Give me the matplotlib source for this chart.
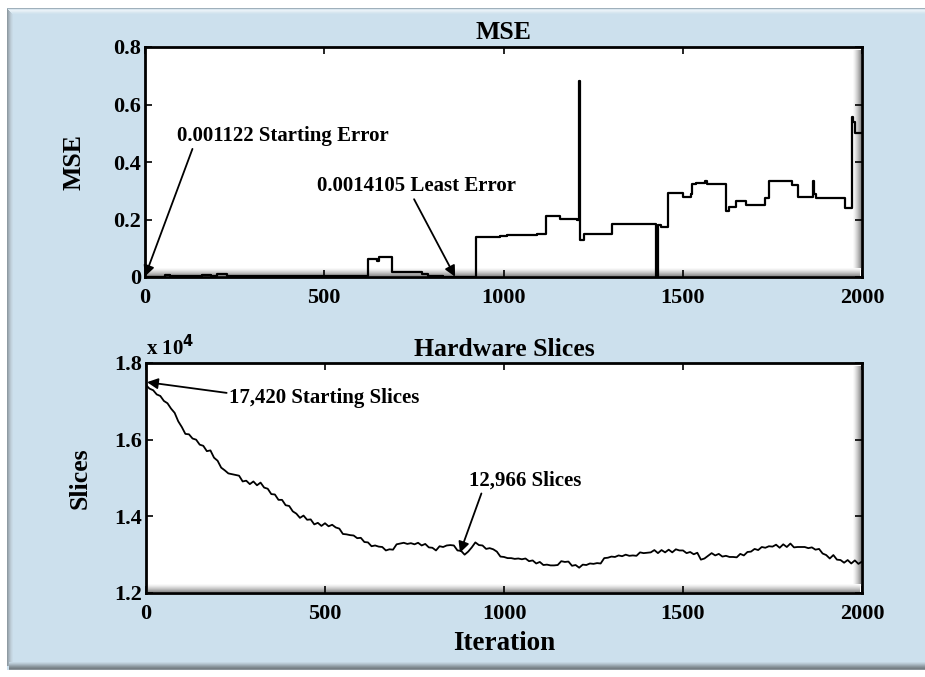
import numpy as np
import matplotlib
matplotlib.use("Agg")
import matplotlib.pyplot as plt
from matplotlib.patches import Rectangle

# ---------------- data ----------------
mse_iter = [0, 55, 70, 160, 185, 200, 230, 430, 520, 623, 646, 652, 688, 772, 790,
            830, 923, 990, 1010, 1094, 1118, 1157, 1205, 1210, 1214, 1225, 1304,
            1425, 1432, 1440, 1459, 1501, 1522, 1527, 1538, 1563, 1568, 1622,
            1630, 1648, 1676, 1729, 1741, 1804, 1822, 1862, 1865, 1872, 1953,
            1971, 1976, 1981, 2000]
mse_val = [0.001, 0.008, 0.003, 0.007, 0.005, 0.009, 0.004, 0.005, 0.002, 0.062,
           0.056, 0.068, 0.018, 0.010, 0.003, 0.0014, 0.138, 0.142, 0.147, 0.150,
           0.212, 0.203, 0.200, 0.683, 0.130, 0.150, 0.184, 0.0, 0.180, 0.175,
           0.291, 0.280, 0.290, 0.323, 0.328, 0.333, 0.323, 0.231, 0.243, 0.263,
           0.251, 0.274, 0.335, 0.320, 0.279, 0.335, 0.290, 0.274, 0.240, 0.558,
           0.540, 0.500, 0.500]

slice_iter = list(range(0, 2001, 10))
slice_val = [
    1.742, 1.733, 1.729, 1.718, 1.714, 1.701, 1.695, 1.681, 1.670, 1.648,
    1.633, 1.615, 1.614, 1.603, 1.600, 1.587, 1.584, 1.570, 1.572, 1.553,
    1.545, 1.527, 1.520, 1.512, 1.510, 1.508, 1.506, 1.491, 1.493, 1.484,
    1.491, 1.481, 1.488, 1.475, 1.472, 1.458, 1.457, 1.443, 1.443, 1.429,
    1.427, 1.413, 1.407, 1.396, 1.402, 1.391, 1.392, 1.379, 1.383, 1.375,
    1.382, 1.374, 1.378, 1.371, 1.368, 1.354, 1.353, 1.351, 1.350, 1.343,
    1.344, 1.333, 1.332, 1.322, 1.324, 1.321, 1.320, 1.311, 1.314, 1.313,
    1.327, 1.329, 1.331, 1.328, 1.330, 1.327, 1.331, 1.324, 1.328, 1.319,
    1.318, 1.311, 1.322, 1.320, 1.324, 1.325, 1.324, 1.311, 1.310, 1.300,
    1.308, 1.319, 1.332, 1.325, 1.324, 1.315, 1.317, 1.314, 1.308, 1.295,
    1.294, 1.291, 1.291, 1.289, 1.290, 1.288, 1.290, 1.283, 1.285, 1.277,
    1.281, 1.273, 1.274, 1.272, 1.272, 1.273, 1.283, 1.281, 1.282, 1.271,
    1.273, 1.266, 1.274, 1.273, 1.277, 1.276, 1.278, 1.277, 1.291, 1.292,
    1.295, 1.294, 1.298, 1.296, 1.300, 1.297, 1.298, 1.297, 1.306, 1.304,
    1.305, 1.306, 1.312, 1.304, 1.312, 1.306, 1.313, 1.306, 1.314, 1.311,
    1.311, 1.304, 1.307, 1.301, 1.305, 1.287, 1.290, 1.297, 1.304, 1.298,
    1.302, 1.295, 1.297, 1.294, 1.294, 1.293, 1.302, 1.298, 1.307, 1.308,
    1.315, 1.312, 1.320, 1.318, 1.322, 1.321, 1.326, 1.318, 1.327, 1.320,
    1.329, 1.319, 1.320, 1.320, 1.320, 1.317, 1.319, 1.313, 1.315, 1.303,
    1.299, 1.290, 1.299, 1.287, 1.286, 1.279, 1.286, 1.277, 1.285, 1.276,
    1.282]

x_ticks = [0, 500, 1000, 1500, 2000]
mse_ticks = [0, 0.2, 0.4, 0.6, 0.8]
mse_ticklabels = ["0", "0.2", "0.4", "0.6", "0.8"]
slice_ticks = [1.2, 1.4, 1.6, 1.8]
slice_ticklabels = ["1.2", "1.4", "1.6", "1.8"]

# ---------------- style ----------------
plt.rcParams['font.family'] = ['Liberation Serif', 'DejaVu Serif']
plt.rcParams['font.weight'] = 'bold'
TICK_FS = 16
LBL_FS = 18.5
ANN_FS = 15
PANEL = '#cce0ed'

fig = plt.figure(figsize=(9.25, 6.77), dpi=100)
fig.patch.set_facecolor('white')

W, H = 925.0, 677.0
def fx(px): return px / W
def fy(py): return 1 - py / H

def fig_rect(x, y, w, h, color, z, alpha=1.0):
    fig.patches.append(Rectangle((x, y), w, h, transform=fig.transFigure,
                                 facecolor=color, edgecolor='none', zorder=z, alpha=alpha))

# panel with bevel
px0, py0, px1, py1 = 7, 8, 925, 670
fig_rect(fx(px0), fy(py1), fx(px1 - px0), (py1 - py0) / H, PANEL, -10)
left_cols = ['#8f9ba3', '#9eabb4', '#adbac4', '#b9c8d2', '#c2d3de', '#c8dae6']
for i, c in enumerate(left_cols):
    fig_rect(fx(px0 + i), fy(py1 - 4), fx(1), (py1 - py0 - 4) / H, c, -9)
top_cols = ['#9fb0bb', '#d9e6ef', '#e8f1f7', '#e2edf4', '#d8e7f0', '#d1e3ee']
for i, c in enumerate(top_cols):
    fig_rect(fx(px0 + i), fy(py0 + i + 1), fx(px1 - px0 - i), 1 / H, c, -8)
bot_cols = ['#c4d6e2', '#b8c9d4', '#aab9c3', '#9aa8b1', '#8c989f', '#7f8a90', '#767f85', '#8a9399']
for i, c in enumerate(bot_cols):
    fig_rect(fx(px0 + 2), fy(py1 - 8 + i + 1), fx(px1 - px0 - 2), 1 / H, c, -8)

def style_axes(ax):
    ax.set_zorder(1)
    ax.set_facecolor('white')
    for s in ax.spines.values():
        s.set_linewidth(2.0)
        s.set_color('black')
        s.set_zorder(6)
    ax.tick_params(direction='in', length=5, width=1.2, top=True, right=True,
                   labelsize=TICK_FS, pad=3)
    ax.tick_params(axis='x', pad=8)
    for lab in ax.get_xticklabels() + ax.get_yticklabels():
        lab.set_fontweight('bold')

def add_shadow(ax):
    bb = ax.get_position()
    wpx = bb.width * W
    hpx = bb.height * H
    steps = 8
    for i in range(steps):
        a = 0.42 * (1 - i / steps) ** 1.4
        ax.add_patch(Rectangle((2 / wpx, (1 + i) / hpx), 1 - 4 / wpx, 1 / hpx,
                               transform=ax.transAxes, facecolor='black', alpha=a,
                               edgecolor='none', zorder=5, clip_on=False))
        ax.add_patch(Rectangle((1 - (2 + i) / wpx, 9 / hpx), 1 / wpx, 1 - 12 / hpx,
                               transform=ax.transAxes, facecolor='black', alpha=a,
                               edgecolor='none', zorder=5, clip_on=False))

arrowprops = dict(arrowstyle='-|>', color='black', lw=1.3, mutation_scale=16,
                  shrinkA=0, shrinkB=0)

# ---------------- top: MSE ----------------
ax1 = fig.add_axes([fx(145), fy(277), fx(862 - 145), (277 - 47) / H])
ax1.plot(mse_iter, mse_val, drawstyle='steps-post', color='black', lw=1.6, zorder=3)
ax1.set_xlim(0, 2000)
ax1.set_ylim(0, 0.8)
ax1.set_xticks(x_ticks)
ax1.set_xticklabels([str(t) for t in x_ticks])
ax1.set_yticks(mse_ticks)
ax1.set_yticklabels(mse_ticklabels)
style_axes(ax1)
ax1.set_title('MSE', fontsize=LBL_FS, fontweight='bold', pad=6)
ax1.set_ylabel('MSE', fontsize=LBL_FS, fontweight='bold', labelpad=20)

ax1.annotate('0.001122 Starting Error', xy=(0, 0.002), xytext=(88, 0.49),
             textcoords='data', fontsize=ANN_FS, fontweight='bold', ha='left', va='center',
             arrowprops=dict(arrowprops, relpos=(0.08, 0.0)), zorder=4)
ax1.annotate('0.0014105 Least Error', xy=(865, 0.001), xytext=(480, 0.315),
             textcoords='data', fontsize=ANN_FS, fontweight='bold', ha='left', va='center',
             arrowprops=dict(arrowprops, relpos=(0.48, 0.0)), zorder=4)

# ---------------- bottom: Slices ----------------
ax2 = fig.add_axes([fx(146), fy(593), fx(862 - 146), (593 - 363) / H])
ax2.plot(slice_iter, slice_val, color='black', lw=1.3, zorder=3)
ax2.set_xlim(0, 2000)
ax2.set_ylim(1.2, 1.8)
ax2.set_xticks(x_ticks)
ax2.set_xticklabels([str(t) for t in x_ticks])
ax2.set_yticks(slice_ticks)
ax2.set_yticklabels(slice_ticklabels)
style_axes(ax2)
ax2.set_title('Hardware Slices', fontsize=LBL_FS, fontweight='bold', pad=5)
ax2.set_ylabel('Slices', fontsize=LBL_FS, fontweight='bold', labelpad=16)
ax2.set_xlabel('Iteration', fontsize=LBL_FS + 1, fontweight='bold', labelpad=5)
ax2.text(0.0, 1.01, r'x 10$^{\mathbf{4}}$', transform=ax2.transAxes, fontsize=TICK_FS - 1,
         fontweight='bold', ha='left', va='bottom')

ax2.annotate('17,420 Starting Slices', xy=(3, 1.750), xytext=(233, 1.708),
             textcoords='data', fontsize=ANN_FS, fontweight='bold', ha='left', va='center',
             arrowprops=dict(arrowprops, relpos=(0.0, 0.75)), zorder=4)
ax2.annotate('12,966 Slices', xy=(877, 1.305), xytext=(902, 1.493),
             textcoords='data', fontsize=ANN_FS, fontweight='bold', ha='left', va='center',
             arrowprops=dict(arrowprops, relpos=(0.12, 0.0)), zorder=4)

add_shadow(ax1)
add_shadow(ax2)

fig.savefig('out.png', dpi=100, facecolor='white')
